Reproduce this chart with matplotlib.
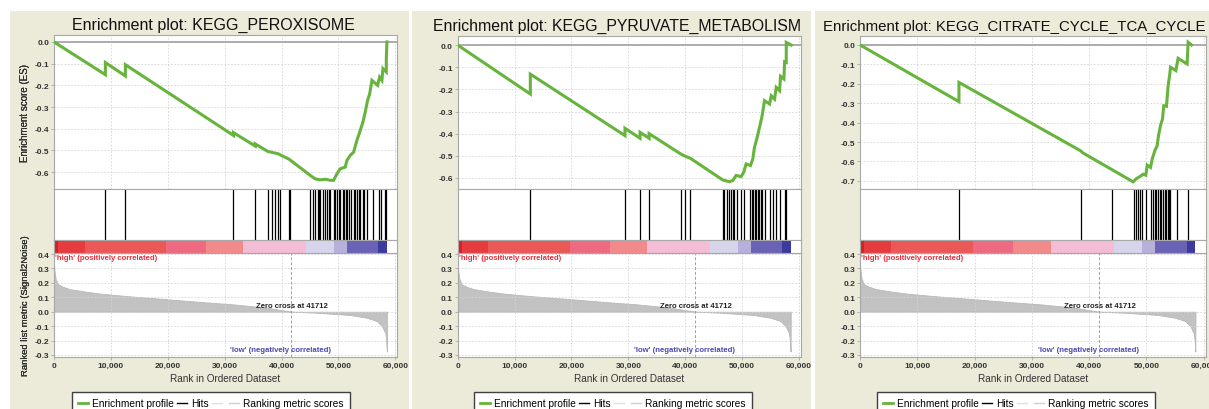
import numpy as np
import matplotlib
matplotlib.use('Agg')
import matplotlib.pyplot as plt
from matplotlib.patches import Rectangle
from matplotlib.lines import Line2D

plt.rcParams['font.family'] = ['Liberation Sans', 'DejaVu Sans']

W, H = 1209, 410

titles = ['Enrichment plot: KEGG_PEROXISOME',
          'Enrichment plot: KEGG_PYRUVATE_METABOLISM',
          'Enrichment plot: KEGG_CITRATE_CYCLE_TCA_CYCLE']

# running enrichment score (rank, ES)
es1_rank = [0, 9030, 9030, 12550, 12550, 31550, 31550, 35370, 35370, 37600, 39350, 41290,
            45040, 45900, 46800, 47700, 48600, 49150, 49740, 50320, 51200, 51500, 52080,
            52670, 53250, 53840, 54310, 54720, 55130, 55480, 55900, 56890, 57240, 57650,
            57830, 58420, 58420, 58530]
es1_val = [0.0, -0.151, -0.095, -0.157, -0.105, -0.431, -0.418, -0.48, -0.47, -0.505, -0.515, -0.54,
           -0.615, -0.631, -0.636, -0.633, -0.638, -0.638, -0.608, -0.585, -0.577, -0.546, -0.523,
           -0.508, -0.454, -0.408, -0.369, -0.323, -0.269, -0.241, -0.177, -0.2, -0.162, -0.177,
           -0.123, -0.138, -0.077, 0.0]

es2_rank = [0, 12765, 12765, 29410, 29410, 32060, 32060, 33650, 33650, 39230, 39820, 40880,
            46590, 47760, 48350, 48940, 49820, 50290, 50700, 51470, 51880, 52170, 52650,
            53060, 53470, 53940, 54820, 55120, 55700, 56000, 56590, 56760, 57350, 57470,
            57760, 57760, 58640]
es2_val = [0.0, -0.221, -0.131, -0.409, -0.376, -0.421, -0.394, -0.421, -0.4, -0.492, -0.5, -0.511,
           -0.609, -0.617, -0.612, -0.589, -0.594, -0.574, -0.537, -0.544, -0.514, -0.462, -0.417,
           -0.371, -0.326, -0.251, -0.266, -0.229, -0.244, -0.191, -0.206, -0.141, -0.153, -0.075,
           -0.078, 0.012, 0.0]

es3_rank = [0, 17270, 17270, 38490, 38950, 47670, 48260, 48840, 49420, 49880, 50120, 50700,
            50990, 51450, 51860, 52090, 52440, 52790, 53020, 53490, 53780, 54070, 54190,
            55120, 55520, 57090, 57270, 57850]
es3_val = [0.0, -0.292, -0.193, -0.545, -0.557, -0.705, -0.688, -0.678, -0.666, -0.671, -0.619, -0.631,
           -0.588, -0.545, -0.519, -0.468, -0.416, -0.382, -0.313, -0.316, -0.21, -0.15, -0.115,
           -0.132, -0.069, -0.098, 0.014, 0.0]

# hit positions (rank of each gene of the set)
hits1 = [9032, 12551, 31554, 35366, 37595, 38299, 38827, 39354, 39648, 41290, 41525, 45044,
         45455, 45924, 46335, 46570, 46803, 47272, 47683, 47976, 48269, 48563, 49149, 49442,
         49736, 50029, 50322, 50733, 51026, 51320, 51495, 51906, 52258, 52669, 52962, 53255,
         53548, 53841, 54252, 54545, 55014, 56070, 57067, 57477, 58240, 58416]
hits2 = [12765, 29410, 32057, 33645, 39233, 39939, 40762, 46585, 46880, 47350, 47762, 48056,
         48350, 48644, 49115, 49820, 50291, 51409, 51703, 51997, 52291, 52527, 52762, 53056,
         53233, 53468, 53939, 54821, 55409, 55997, 56585, 57468, 57762]
hits3 = [17268, 38489, 44012, 47791, 48140, 48547, 48838, 49303, 50000, 50873, 51163, 51454,
         51745, 52035, 52326, 52617, 52907, 53198, 53373, 53780, 53954, 54187, 55407, 57268]

# ranked list metric (same ranked list in all three plots)
metric_rank = [0, 290, 700, 1580, 2760, 5400, 8040, 11000, 13900, 19800, 25650, 31500,
               37400, 41712, 46200, 52060, 55000, 56760, 57640, 58230, 58400, 58520, 58550]
metric_val = [0.31, 0.227, 0.19, 0.173, 0.157, 0.14, 0.126, 0.115, 0.105, 0.087, 0.068, 0.051,
              0.028, 0.0, -0.007, -0.023, -0.042, -0.065, -0.1, -0.147, -0.194, -0.276, 0.0]
zero_cross = 41712

# heat bar under the hits
bar_edges = [0, 700, 5400, 19700, 26700, 33300, 44300, 49200, 51500, 57000, 58550]
bar_colors = ['#d42027', '#e63c40', '#ea5858', '#ed6a80', '#f28a8c', '#f3bdd6',
              '#d6d5ec', '#b6b0da', '#6a62b4', '#3c3a9c']

es_ranks = [es1_rank, es2_rank, es3_rank]
es_vals = [es1_val, es2_val, es3_val]
all_hits = [hits1, hits2, hits3]

# panel layout in pixels
panels = [
    dict(bg=(10, 409), left=54, right=397, es_top=36, es_ylim=(-0.678, 0.032), nt=7,
         tx=213.5, ha='center', tsize=11.5, legx=72),
    dict(bg=(412, 811), left=457.7, right=800.7, es_top=37, es_ylim=(-0.65, 0.041), nt=7,
         tx=617, ha='center', tsize=11.4, legx=474),
    dict(bg=(815, 1215), left=860, right=1205.5, es_top=37, es_ylim=(-0.742, 0.046), nt=8,
         tx=823, ha='left', tsize=10.8, legx=877),
]

GREEN = '#66b43c'
GRID = '#d4d4d4'
SPINE = '#a8a8a8'
TICKC = '#333333'
XMAX = 60300


def fax(l, t, r, b):
    return fig.add_axes([l / W, 1 - b / H, (r - l) / W, (b - t) / H])


def style(ax):
    for s in ax.spines.values():
        s.set_color(SPINE)
        s.set_linewidth(0.8)
    ax.tick_params(length=2, width=0.6, color=SPINE, pad=1.5, labelsize=6.0, labelcolor=TICKC)
    for lab in ax.get_xticklabels() + ax.get_yticklabels():
        lab.set_fontweight('bold')


fig = plt.figure(figsize=(W / 100, H / 100), dpi=100)
fig.patch.set_facecolor('white')

xt = [0, 10000, 20000, 30000, 40000, 50000, 60000]
xtl = ['0', '10,000', '20,000', '30,000', '40,000', '50,000', '60,000']

for i, p in enumerate(panels):
    fig.patches.append(Rectangle((p['bg'][0] / W, 0), (p['bg'][1] - p['bg'][0]) / W, 1 - 12 / H,
                                 transform=fig.transFigure, facecolor='#ecead9',
                                 edgecolor='none', zorder=-10))
    L, R = p['left'], p['right']

    # enrichment score
    ax1 = fax(L, p['es_top'], R, 190)
    ax1.plot(es_ranks[i], es_vals[i], color=GREEN, lw=2.2, solid_joinstyle='miter', zorder=3)
    ax1.axhline(0, color='#a0a0a0', lw=1.2, zorder=2)
    ax1.set_xlim(0, XMAX)
    ax1.set_ylim(*p['es_ylim'])
    yt = [-0.1 * k for k in range(p['nt'])]
    ax1.set_yticks(yt)
    ax1.set_yticklabels(['%.1f' % v if v != 0 else '0.0' for v in yt])
    ax1.set_xticks(xt)
    ax1.set_xticklabels([])
    ax1.tick_params(axis='x', length=0)
    ax1.grid(True, color=GRID, ls=(0, (2, 2)), lw=0.6)
    ax1.set_ylabel('Enrichment score (ES)', fontsize=7, color='#333333')
    ax1.yaxis.set_label_coords((30 - L) / (R - L), 0.5)
    style(ax1)
    ax1.set_title(titles[i], fontsize=p['tsize'], color='#111111',
                  x=(p['tx'] - L) / (R - L), ha=p['ha'], pad=4.5)

    # hits
    ax2 = fax(L, 190, R, 241)
    ax2.vlines(all_hits[i], 0, 1, color='black', lw=0.9)
    ax2.set_xlim(0, XMAX)
    ax2.set_ylim(0, 1)
    ax2.set_xticks([])
    ax2.set_yticks([])
    style(ax2)

    # heat bar
    ax3 = fax(L, 241, R, 254)
    for k in range(len(bar_colors)):
        ax3.axvspan(bar_edges[k], bar_edges[k + 1], color=bar_colors[k], lw=0)
    ax3.set_xlim(0, XMAX)
    ax3.set_xticks([])
    ax3.set_yticks([])
    style(ax3)

    # ranked list metric
    ax4 = fax(L, 254, R, 358)
    ax4.fill_between(metric_rank, 0, metric_val, color='#c2c2c2', lw=0.6, edgecolor='#b8b8b8')
    ax4.axvline(zero_cross, color='#a0a0a0', lw=0.7, ls=(0, (3, 2)))
    ax4.set_xlim(0, XMAX)
    ax4.set_ylim(-0.314, 0.407)
    myt = [0.4, 0.3, 0.2, 0.1, 0.0, -0.1, -0.2, -0.3]
    ax4.set_yticks(myt)
    ax4.set_yticklabels(['%.1f' % v if abs(v) > 1e-9 else '0.0' for v in myt])
    ax4.set_xticks(xt)
    ax4.set_xticklabels(xtl)
    ax4.grid(True, color=GRID, ls=(0, (2, 2)), lw=0.6)
    ax4.set_ylabel('Ranked list metric (Signal2Noise)', fontsize=6.8, color='#333333')
    ax4.yaxis.set_label_coords((30 - L) / (R - L), 0.5)
    ax4.set_xlabel('Rank in Ordered Dataset', fontsize=7.2, color='#333333')
    ax4.xaxis.set_label_coords(0.5, -0.15)
    style(ax4)
    ax4.text(0.004, 0.995, "'high' (positively correlated)", transform=ax4.transAxes,
             ha='left', va='top', fontsize=5.6, fontweight='bold', color='#e8303c')
    ax4.text(39800, -0.262, "'low' (negatively correlated)", ha='center', va='center',
             fontsize=5.6, fontweight='bold', color='#4a48b0')
    ax4.text(41800, 0.044, 'Zero cross at %d' % zero_cross, ha='center', va='center',
             fontsize=5.6, fontweight='bold', color='#222222')

    handles = [Line2D([], [], color=GREEN, lw=2),
               Line2D([], [], color='black', lw=1),
               Line2D([], [], color='#e0e0e0', lw=1),
               Line2D([], [], color='#d0d0d0', lw=1)]
    labels = ['Enrichment profile', 'Hits', '', 'Ranking metric scores']
    leg = fig.legend(handles, labels, loc='upper left', ncol=4,
                     bbox_to_anchor=(p['legx'] / W, 1 - 393 / H), borderaxespad=0,
                     fontsize=7.3, handlelength=1.0, handletextpad=0.35, columnspacing=0.35,
                     frameon=True, fancybox=False, framealpha=1, borderpad=0.6)
    leg.get_frame().set_edgecolor('#404040')
    leg.get_frame().set_linewidth(1.0)

fig.savefig('out.png', dpi=100, facecolor='white')
